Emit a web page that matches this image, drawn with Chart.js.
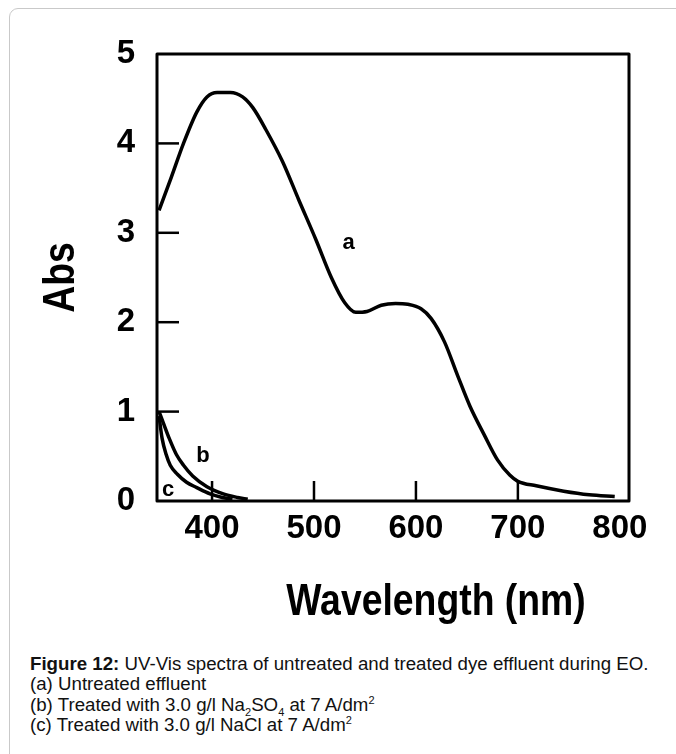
<!DOCTYPE html>
<html>
<head>
<meta charset="utf-8">
<script src="https://cdn.jsdelivr.net/npm/chart.js@4/dist/chart.umd.min.js"></script>
<style>
  html, body { margin: 0; padding: 0; background: #fff; overflow: hidden; }
  body { width: 676px; height: 754px; position: relative; }
  #card { position: absolute; left: 9px; top: 8px; width: 720px; height: 800px;
          border: 1px solid #c9c9c9; border-radius: 9px; box-sizing: border-box; }
  #wrap { position: absolute; left: 0; top: 0; width: 676px; height: 640px; }
  #caption { position: absolute; left: 30px; top: 654px; font-family: 'Liberation Sans', Arial, sans-serif;
             font-size: 18.7px; line-height: 20.4px; color: #111; white-space: nowrap; }
  #caption sub, #caption sup { font-size: 11px; line-height: 0; }
</style>
</head>
<body>
<div id="card"></div>
<div id="wrap"><canvas id="c" width="676" height="640"></canvas></div>
<div id="caption">
  <div><b>Figure 12:</b> UV-Vis spectra of untreated and treated dye effluent during EO.</div>
  <div>(a) Untreated effluent</div>
  <div>(b) Treated with 3.0 g/l Na<sub>2</sub>SO<sub>4</sub> at 7 A/dm<sup>2</sup></div>
  <div>(c) Treated with 3.0 g/l NaCl at 7 A/dm<sup>2</sup></div>
</div>
<script>
// ---- data (wavelength nm, absorbance) ----
const wlA  = [348, 360, 372, 385, 395, 405, 418, 430, 440, 453, 469, 485, 502, 517, 530, 541, 552, 566, 580, 592, 605, 615, 628, 641, 653, 667, 680, 692, 700, 718, 745, 770, 795];
const absA = [3.25, 3.62, 4.00, 4.35, 4.52, 4.57, 4.57, 4.52, 4.40, 4.15, 3.80, 3.37, 2.92, 2.50, 2.22, 2.11, 2.12, 2.19, 2.21, 2.20, 2.15, 2.04, 1.78, 1.40, 1.06, 0.74, 0.46, 0.29, 0.22, 0.17, 0.11, 0.07, 0.05];
const wlB  = [348, 352, 358, 365, 372, 381, 395, 411, 425, 435];
const absB = [1.00, 0.88, 0.70, 0.52, 0.40, 0.28, 0.16, 0.08, 0.04, 0.02];
const wlC  = [348, 351, 355, 359, 366, 375, 385, 398, 410, 420];
const absC = [0.95, 0.70, 0.52, 0.40, 0.30, 0.21, 0.15, 0.08, 0.04, 0.02];
const xTicks = [400, 500, 600, 700, 800];
const yTicks = [0, 1, 2, 3, 4, 5];
const curveNames = ['a', 'b', 'c'];
const nameAt = [[534, 2.89], [391, 0.50], [357, 0.12]];
const xTitle = 'Wavelength (nm)';
const yTitle = 'Abs';

const toPts = (xs, ys) => xs.map((x, i) => ({ x: x, y: ys[i] }));
const FONT = "'Liberation Sans', Arial, sans-serif";

function condensedText(ctx, text, x, y, rot) {
  ctx.save();
  ctx.translate(x, y);
  if (rot) ctx.rotate(rot);
  ctx.scale(0.83, 1);
  ctx.fillText(text, 0, 0);
  ctx.restore();
}

const framePlugin = {
  id: 'frame',
  afterDatasetsDraw(chart) {
    const { ctx, chartArea: a, scales } = chart;
    ctx.save();
    ctx.strokeStyle = '#000';
    ctx.lineWidth = 3;
    ctx.lineJoin = 'round';
    ctx.strokeRect(a.left, a.top, a.right - a.left, a.bottom - a.top);
    // inward tick marks
    ctx.lineWidth = 2.5;
    yTicks.slice(1, -1).forEach(v => {
      const y = scales.y.getPixelForValue(v);
      ctx.beginPath(); ctx.moveTo(a.left, y); ctx.lineTo(a.left + 22, y); ctx.stroke();
    });
    xTicks.slice(0, -1).forEach(v => {
      const x = scales.x.getPixelForValue(v);
      ctx.beginPath(); ctx.moveTo(x, a.bottom); ctx.lineTo(x, a.bottom - 20); ctx.stroke();
    });
    // curve labels
    ctx.fillStyle = '#000';
    ctx.font = 'bold 22px ' + FONT;
    ctx.textAlign = 'center';
    ctx.textBaseline = 'middle';
    curveNames.forEach((n, i) => {
      ctx.fillText(n, scales.x.getPixelForValue(nameAt[i][0]), scales.y.getPixelForValue(nameAt[i][1]));
    });
    // axis titles (condensed bold)
    ctx.font = 'bold 45px ' + FONT;
    condensedText(ctx, xTitle, (a.left + a.right) / 2 + 43, a.bottom + 102, 0);
    condensedText(ctx, yTitle, 62, (a.top + a.bottom) / 2, -Math.PI / 2);
    ctx.restore();
  }
};

const lineStyle = { borderColor: '#000', borderWidth: 3.5, pointRadius: 0, fill: false, cubicInterpolationMode: 'monotone' };

new Chart(document.getElementById('c'), {
  type: 'line',
  data: {
    datasets: [
      Object.assign({ label: 'a', data: toPts(wlA, absA) }, lineStyle),
      Object.assign({ label: 'b', data: toPts(wlB, absB) }, lineStyle),
      Object.assign({ label: 'c', data: toPts(wlC, absC) }, lineStyle)
    ]
  },
  options: {
    responsive: false,
    animation: false,
    layout: { padding: { top: 54, right: 47, left: 0, bottom: 0 } },
    plugins: { legend: { display: false }, tooltip: { enabled: false } },
    scales: {
      x: {
        type: 'linear', min: 346, max: 809,
        afterBuildTicks: s => { s.ticks = xTicks.map(v => ({ value: v })); },
        afterFit: s => { s.height = 139; },
        grid: { display: false, drawTicks: false },
        border: { display: false },
        ticks: { color: '#000', padding: 8, font: { family: FONT, size: 33, weight: 'bold' } },
        title: { display: false }
      },
      y: {
        min: 0, max: 5,
        afterBuildTicks: s => { s.ticks = yTicks.map(v => ({ value: v })); },
        afterFit: s => { s.width = 157; },
        grid: { display: false, drawTicks: false },
        border: { display: false },
        ticks: { color: '#000', padding: 22, font: { family: FONT, size: 33, weight: 'bold' } },
        title: { display: false }
      }
    }
  },
  plugins: [framePlugin]
});
</script>
</body>
</html>
